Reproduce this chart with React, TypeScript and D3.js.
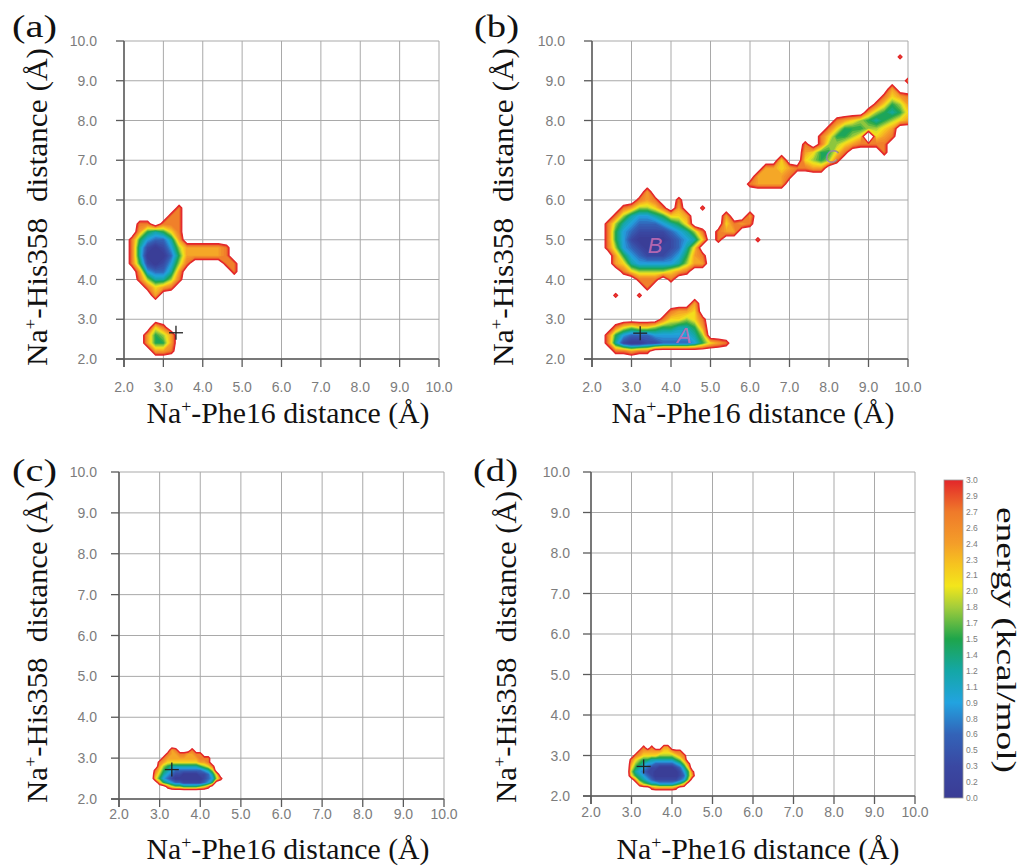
import React from "react";
import * as d3 from "d3";

// ---------------- data ----------------
const energyStops = [0.0, 0.3, 0.6, 0.9, 1.2, 1.5, 1.8, 2.0, 2.2, 2.4, 2.7, 3.0];
const energyColors = [
  "#3a3c95", "#3a48a2", "#3363b8", "#22a3e0", "#14a7a6", "#1ea54b",
  "#a3cd3b", "#f3e61b", "#f6c41f", "#f49e29", "#ef7a2a", "#e3262a",
];
const colorbarLabels = [
  "3.0", "2.9", "2.7", "2.6", "2.4", "2.3", "2.1", "2.0", "1.8", "1.7", "1.5",
  "1.4", "1.2", "1.1", "0.9", "0.8", "0.6", "0.5", "0.3", "0.2", "0.0",
];
const tickValues = [2, 3, 4, 5, 6, 7, 8, 9, 10];
const tickLabels = ["2.0", "3.0", "4.0", "5.0", "6.0", "7.0", "8.0", "9.0", "10.0"];
const fillLevels = [
  3.0, 2.9, 2.8, 2.7, 2.6, 2.5, 2.4, 2.3, 2.2, 2.1, 2.0, 1.9, 1.8, 1.7, 1.6,
  1.5, 1.4, 1.3, 1.2, 1.1, 1.0, 0.9, 0.8, 0.7, 0.6, 0.5, 0.4, 0.3, 0.2, 0.1,
];
// grid cell codes -> energy (kcal/mol); '.' = above 3.0 (blank)
const cellCodes = [".", "#", "x", "0", "1", "2", "3", "4", "5", "6", "7", "8", "9"];
const cellEnergies = [3.6, 5.0, 2.8, 0.0, 0.3, 0.6, 0.9, 1.2, 1.5, 1.8, 2.1, 2.4, 2.7];

// origin = [x of first column, y of first (top) row, step]
const gridAOrigin = [2.0, 6.2, 0.2];
const gridARows = [
  ".................",
  ".................",
  ".......9.........",
  "......99.........",
  "..99.999.........",
  "..854579.........",
  ".9532248.........",
  ".9410136888889...",
  ".9400025888889...",
  ".95101369....99..",
  "..832248......9..",
  "..964469.........",
  "...9789..........",
  "....8............",
  ".................",
  ".................",
  ".................",
  "....79...........",
  "...8568..........",
  "...8558..........",
  "....889..........",
  ".................",
];

const gridBLowOrigin = [2.0, 6.6, 0.2];
const gridBLowRows = [
  ".......................",
  ".......................",
  ".......8...............",
  "......989..9...........",
  "....986679.8..x........",
  "...9643345778....8..8..",
  "..96432223457....7989..",
  "..9532111123469.988....",
  "..9531000012347.9....x.",
  "..963210011247.........",
  "...853211123589........",
  "...874333334688........",
  "....976666789..........",
  "......999.9............",
  ".......9...............",
  "...x..x................",
  ".............8.........",
  "..........9887.........",
  ".........977679........",
  "...976776554458........",
  "..9532223333346........",
  "..9410011222235789.....",
  "...99899...............",
  ".......................",
];

const gridBBandOrigin = [5.6, 10.0, 0.2];
const gridBBandRows = [
  ".........................",
  ".........................",
  ".....................x...",
  ".........................",
  ".........................",
  "......................9..",
  "....................8....",
  "...................9789..",
  "..................975689.",
  ".................8654579.",
  ".............98765456789.",
  "............975556678....",
  "...........975567#789....",
  ".........9.966789999.....",
  ".........875579....9.....",
  "......7..76569...........",
  "....88789988.............",
  "...88889.................",
  "..98888..................",
  ".........................",
  ".........................",
];

const gridCOrigin = [2.7, 3.4, 0.1];
const gridCRows = [
  ".....................",
  ".....................",
  "......89...9.........",
  ".....988998899.......",
  "....988888888999.....",
  "...9877777777889.....",
  "...86544444445679....",
  "..975432222222346....",
  "..8643211000011247...",
  "..75321000000012369..",
  "...85432211111235....",
  ".....97665555679.....",
  ".....................",
  ".....................",
  ".....................",
];

const gridDOrigin = [2.7, 3.4, 0.1];
const gridDRows = [
  ".....................",
  ".....................",
  "......9.9..88........",
  ".....98888877899.....",
  "....9877776666789....",
  "...97655444444568....",
  "...865433222223469...",
  "...754321100001247...",
  "...6432110000001359..",
  "...7543210000001258..",
  "....85432111111236...",
  ".....865443333457....",
  "........9888889......",
  ".....................",
  ".....................",
];

const markerA = [3.32, 2.66];
const markerB = [3.22, 2.65];
const markerC = [3.3, 2.72];
const markerD = [3.3, 2.73];

const stateLabels = ["A", "B", "C"];
const stateLabelX = [4.33, 3.6, 8.07];
const stateLabelY = [2.4, 4.67, 6.93];

// ---------------- rendering ----------------
const SERIF = '"Liberation Serif", "Times New Roman", serif';
const SANS = '"Liberation Sans", Arial, sans-serif';

const colorScale = d3
  .scaleLinear<string>()
  .domain(energyStops)
  .range(energyColors)
  .interpolate(d3.interpolateRgb)
  .clamp(true);

function energyOf(ch: string) {
  const k = cellCodes.indexOf(ch);
  return k < 0 ? 3.6 : cellEnergies[k];
}

function Contours({ rows, origin, sx, sy }: any) {
  const m = rows.length;
  const n = d3.max(rows, (r: string) => r.length) as number;
  const values = new Array(n * m);
  for (let j = 0; j < m; j++)
    for (let i = 0; i < n; i++) values[j * n + i] = -energyOf(rows[j][i] || ".");
  const gen = d3
    .contours()
    .size([n, m])
    .thresholds(fillLevels.map((e) => -e));
  const polys = gen(values);
  const [x0, yTop, step] = origin;
  const path = d3.geoPath(
    d3.geoTransform({
      point(px: number, py: number) {
        (this as any).stream.point(sx(x0 + (px - 0.5) * step), sy(yTop - (py - 0.5) * step));
      },
    })
  );
  const outer = polys.find((p: any) => Math.abs(p.value + 3.0) < 1e-6);
  return (
    <g>
      {polys.map((p: any, k: number) => (
        <path key={k} d={path(p as any) || ""} fill={colorScale(-p.value - 0.05)} />
      ))}
      {outer && (
        <path
          d={path(outer as any) || ""}
          fill="none"
          stroke="#e3262a"
          strokeWidth={1.3}
          strokeLinejoin="round"
        />
      )}
    </g>
  );
}

function NaTitle({ x, y, rot, rest, len, fs }: any) {
  return (
    <text
      transform={`translate(${x},${y}) rotate(${rot})`}
      textAnchor="middle"
      fontFamily={SERIF}
      fontSize={fs}
      fill="#111"
      textLength={len}
      lengthAdjust="spacingAndGlyphs"
      xmlSpace="preserve"
      style={{ whiteSpace: "pre" }}
    >
      Na
      <tspan dy={-fs * 0.38} fontSize={fs * 0.6}>
        +
      </tspan>
      <tspan dy={fs * 0.38}>{rest}</tspan>
    </text>
  );
}

const panels = [
  {
    key: "a", label: "(a)", labelX: 12, labelY: 37,
    left: 124, right: 439, top: 41, bottom: 359,
    yTickEnd: 97, xTickBase: 392,
    yTitleX: 47, yTitleY: 207, yTitleLen: 318, xTitleX: 288, xTitleY: 423,
    grids: [[gridARows, gridAOrigin]], marker: markerA, states: false,
  },
  {
    key: "b", label: "(b)", labelX: 474, labelY: 37,
    left: 592, right: 908, top: 41, bottom: 359,
    yTickEnd: 565, xTickBase: 392,
    yTitleX: 513, yTitleY: 207, yTitleLen: 318, xTitleX: 753, xTitleY: 423,
    grids: [[gridBLowRows, gridBLowOrigin], [gridBBandRows, gridBBandOrigin]],
    marker: markerB, states: true,
  },
  {
    key: "c", label: "(c)", labelX: 12, labelY: 481,
    left: 119, right: 444, top: 472, bottom: 799,
    yTickEnd: 97, xTickBase: 819,
    yTitleX: 47, yTitleY: 647, yTitleLen: 312, xTitleX: 288, xTitleY: 859,
    grids: [[gridCRows, gridCOrigin]], marker: markerC, states: false,
  },
  {
    key: "d", label: "(d)", labelX: 473, labelY: 481,
    left: 591, right: 915, top: 472, bottom: 796,
    yTitleX: 516, yTitleY: 647, yTitleLen: 312, xTitleX: 758, xTitleY: 859,
    yTickEnd: 570, xTickBase: 817,
    grids: [[gridDRows, gridDOrigin]], marker: markerD, states: false,
  },
];

function Panel({ p }: any) {
  const sx = d3.scaleLinear().domain([2, 10]).range([p.left, p.right]);
  const sy = d3.scaleLinear().domain([2, 10]).range([p.bottom, p.top]);
  const clipId = `clip-${p.key}`;
  const [mx, my] = p.marker;
  return (
    <g>
      <defs>
        <clipPath id={clipId}>
          <rect x={p.left} y={p.top} width={p.right - p.left} height={p.bottom - p.top} />
        </clipPath>
      </defs>
      {tickValues.map((v) => (
        <g key={`g${v}`}>
          <line x1={sx(v)} x2={sx(v)} y1={p.top} y2={p.bottom} stroke="#a9a9a9" strokeWidth={1} />
          <line x1={p.left} x2={p.right} y1={sy(v)} y2={sy(v)} stroke="#a9a9a9" strokeWidth={1} />
        </g>
      ))}
      <g clipPath={`url(#${clipId})`}>
        {p.grids.map((g: any, k: number) => (
          <Contours key={k} rows={g[0]} origin={g[1]} sx={sx} sy={sy} />
        ))}
      </g>
      <line x1={p.left} x2={p.left} y1={p.top} y2={p.bottom + 8} stroke="#5a5a5a" strokeWidth={1.5} />
      <line x1={p.left - 8} x2={p.right} y1={p.bottom} y2={p.bottom} stroke="#5a5a5a" strokeWidth={1.5} />
      {tickValues.map((v, i) => (
        <g key={`t${v}`}>
          <line x1={sx(v)} x2={sx(v)} y1={p.bottom} y2={p.bottom + 8} stroke="#5a5a5a" strokeWidth={1.3} />
          <line x1={p.left - 8} x2={p.left} y1={sy(v)} y2={sy(v)} stroke="#5a5a5a" strokeWidth={1.3} />
          <text x={sx(v)} y={p.xTickBase} textAnchor="middle" fontFamily={SANS} fontSize={14} fill="#7c7c7c">
            {tickLabels[i]}
          </text>
          <text x={p.yTickEnd} y={sy(v) + 5} textAnchor="end" fontFamily={SANS} fontSize={14} fill="#7c7c7c">
            {tickLabels[i]}
          </text>
        </g>
      ))}
      {p.states &&
        stateLabels.map((s, i) => (
          <text
            key={s}
            x={sx(stateLabelX[i])}
            y={sy(stateLabelY[i])}
            textAnchor="middle"
            fontFamily={SANS}
            fontStyle="italic"
            fontSize={s === "C" ? 19 : 22}
            fill={s === "C" ? "#9a8aa6" : "#c26cb4"}
            fillOpacity={0.9}
          >
            {s}
          </text>
        ))}
      <line x1={sx(mx) - 7} x2={sx(mx) + 7} y1={sy(my)} y2={sy(my)} stroke="#222" strokeWidth={1.3} />
      <line x1={sx(mx)} x2={sx(mx)} y1={sy(my) - 7} y2={sy(my) + 7} stroke="#222" strokeWidth={1.3} />
      <text x={p.labelX} y={p.labelY} fontFamily={SERIF} fontSize={31} fill="#111" textLength={45} lengthAdjust="spacingAndGlyphs">
        {p.label}
      </text>
      <NaTitle x={p.yTitleX} y={p.yTitleY} rot={-90} rest={"-His358  distance (\u00c5)"} len={p.yTitleLen} fs={29} />
      <NaTitle x={p.xTitleX} y={p.xTitleY} rot={0} rest={"-Phe16 distance (\u00c5)"} len={283} fs={29} />
    </g>
  );
}

function Colorbar() {
  const x = 944, y0 = 480, w = 19, h = 318;
  const ly = d3.scaleLinear().domain([0, colorbarLabels.length - 1]).range([y0, y0 + h]);
  const order = energyStops.map((e, i) => i).reverse();
  return (
    <g>
      <defs>
        <linearGradient id="cbar" x1="0" y1="0" x2="0" y2="1">
          {order.map((i) => (
            <stop key={i} offset={(3.0 - energyStops[i]) / 3.0} stopColor={energyColors[i]} />
          ))}
        </linearGradient>
      </defs>
      <rect x={x} y={y0} width={w} height={h} fill="url(#cbar)" stroke="#999" strokeWidth={0.8} />
      {colorbarLabels.map((l, i) => (
        <text key={i} x={x + w + 3} y={ly(i) + 3} fontFamily={SANS} fontSize={8.5} fill="#7c7c7c">
          {l}
        </text>
      ))}
      <text
        transform={`translate(997,640) rotate(90)`}
        textAnchor="middle"
        fontFamily={SERIF}
        fontSize={28}
        fill="#111"
        textLength={266}
        lengthAdjust="spacingAndGlyphs"
      >
        energy (kcal/mol)
      </text>
    </g>
  );
}

export default function App() {
  return (
    <div style={{ position: "absolute", left: 0, top: 0 }}>
      <svg width={1026} height={867} style={{ display: "block", background: "#fff" }}>
        <rect width={1026} height={867} fill="#fff" />
        {panels.map((p) => (
          <Panel key={p.key} p={p} />
        ))}
        <Colorbar />
      </svg>
    </div>
  );
}
